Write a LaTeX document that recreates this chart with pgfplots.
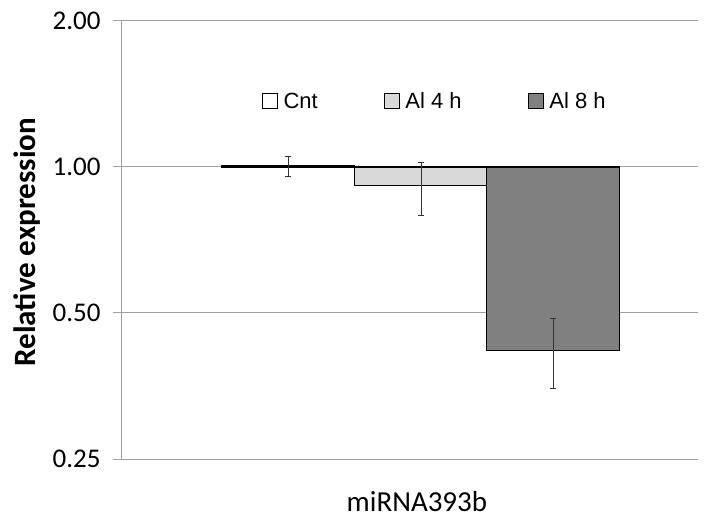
\documentclass[border=0pt]{standalone}
\usepackage{pgfplots}
\pgfplotsset{compat=1.18}
\usepackage{fontspec}
\setmainfont{Carlito}
\newfontfamily\arial{Liberation Sans}
\definecolor{gridgray}{HTML}{A0A0A0}
\definecolor{lightbar}{HTML}{D9D9D9}
\definecolor{darkbar}{HTML}{808080}
\begin{document}
\begin{tikzpicture}
\useasboundingbox (-122pt,-62pt) rectangle (587pt,459pt);
\begin{axis}[
  at={(0pt,0pt)}, anchor=south west,
  scale only axis, width=576pt, height=438pt,
  xmin=122, xmax=698,
  ymode=log, log basis y=2, ymin=0.25, ymax=2, log origin=0,
  axis x line=bottom, axis y line=left,
  x axis line style={draw=none},
  y axis line style={draw=gridgray, line width=1pt, -},
  xtick=\empty,
  ytick={0.25,0.5,1,2},
  yticklabels={0.25,0.50,1.00,2.00},
  ytick pos=left, tick align=outside, major tick length=9pt,
  tick style={draw=gridgray, line width=1pt},
  ymajorgrids, grid style={draw=gridgray, line width=1pt},
  /pgf/number format/assume math mode=true,
  yticklabel style={font=\fontsize{27}{30}\selectfont, xshift=-9pt},
  clip=false,
  legend columns=3,
  legend style={draw=none, fill=none, at={(axis description cs:0.543,0.817)}, anchor=center,
    font=\arial\fontsize{22}{25}\selectfont,
    /tikz/every even column/.append style={column sep=64pt},
    /tikz/every odd column/.append style={column sep=4pt}},
  legend image code/.code={\draw[#1, draw=black, line width=0.7pt] (0pt,-7pt) rectangle (15pt,8pt);},
]
\addplot[ybar, bar width=133, bar shift=0pt, fill=white, draw=black, line width=1.1pt] coordinates {(288,1.005)};
\addlegendentry{Cnt}
\addplot[ybar, bar width=133, bar shift=0pt, fill=lightbar, draw=black, line width=1.1pt] coordinates {(421,0.914)};
\addlegendentry{Al 4 h}
\addplot[ybar, bar width=133, bar shift=0pt, fill=darkbar, draw=black, line width=1.1pt] coordinates {(553,0.419)};
\addlegendentry{Al 8 h}
\addplot[forget plot, black!80, line width=1pt, mark=-, mark size=3pt, mark options={line width=1pt}] coordinates {(288,0.958) (288,1.05)};
\addplot[forget plot, black!80, line width=1pt, mark=-, mark size=3pt, mark options={line width=1pt}] coordinates {(421,0.794) (421,1.022)};
\addplot[forget plot, black!80, line width=1pt, mark=-, mark size=3pt, mark options={line width=1pt}] coordinates {(553,0.349) (553,0.486)};
\node[font=\fontsize{29}{33}\selectfont] at (axis description cs:0.512,-0.097) {miRNA393b};
\node[rotate=90, font=\bfseries\fontsize{31}{36}\selectfont] at (axis description cs:-0.165,0.495) {Relative expression};
\end{axis}
\end{tikzpicture}
\end{document}
